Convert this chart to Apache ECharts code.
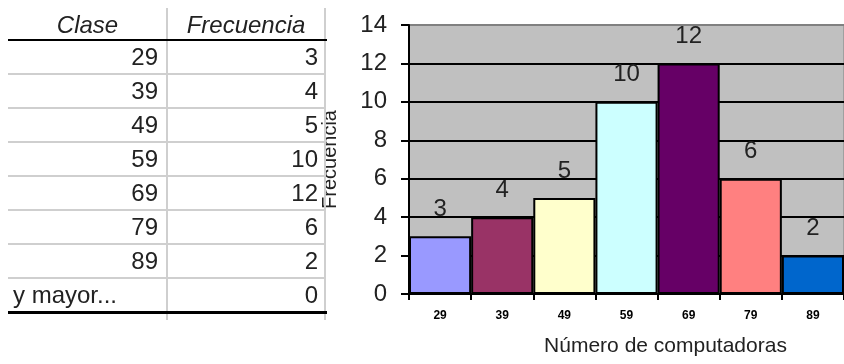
<!DOCTYPE html>
<html>
<head>
<meta charset="utf-8">
<script src="https://cdn.jsdelivr.net/npm/echarts@6/dist/echarts.min.js"></script>
<style>
    html, body { margin: 0; padding: 0; background: #fff; }
    #wrap { position: relative; width: 844px; height: 364px; overflow: hidden; }
    #chart { position: absolute; left: 0; top: 0; width: 844px; height: 364px; }
    #tabla { position: absolute; left: 0; top: 0; width: 340px; height: 364px; pointer-events: none;
             font-family: 'Liberation Sans', Arial, sans-serif; font-size: 24px; color: #222; }
    .vl { position: absolute; width: 2px; background: #cfcfcf; }
    .hl { position: absolute; height: 2px; background: #cfcfcf; }
    .cell { position: absolute; height: 34px; line-height: 34px; white-space: nowrap; }
</style>
</head>
<body>
<div id="wrap">
    <div id="chart"></div>
    <div id="tabla"></div>
</div>
<script>
// datos de la tabla de frecuencias
const clases = ['29', '39', '49', '59', '69', '79', '89', 'y mayor...'];
const frecuencias = [3, 4, 5, 10, 12, 6, 2, 0];

// datos del histograma
const categorias = ['29', '39', '49', '59', '69', '79', '89'];
const valores = [3, 4, 5, 10, 12, 6, 2];
const colores = ['#9999ff', '#993366', '#ffffcc', '#ccffff', '#660066', '#ff8080', '#0066cc'];
const ticksY = [0, 2, 4, 6, 8, 10, 12, 14];

// tabla (texto real en HTML)
function drawTable() {
    const el = document.getElementById('tabla');
    const top = 40, rowH = 34;
    let html = '';
    html += '<div class="vl" style="left:166px;top:8px;height:312px"></div>';
    html += '<div class="vl" style="left:324px;top:8px;height:312px"></div>';
    html += '<div class="cell" style="left:8px;width:159px;top:8px;text-align:center;font-style:italic">Clase</div>';
    html += '<div class="cell" style="left:167px;width:158px;top:8px;text-align:center;font-style:italic">Frecuencia</div>';
    html += '<div style="position:absolute;left:8px;top:39px;width:319px;height:2px;background:#000"></div>';
    clases.forEach((c, i) => {
        const y = top + i * rowH;
        if (i > 0) html += `<div class="hl" style="left:8px;top:${y - 1}px;width:317px"></div>`;
        if (c === 'y mayor...') {
            html += `<div class="cell" style="left:13px;top:${y}px">${c}</div>`;
        } else {
            html += `<div class="cell" style="left:8px;width:150px;top:${y}px;text-align:right">${c}</div>`;
        }
        html += `<div class="cell" style="left:167px;width:151px;top:${y}px;text-align:right">${frecuencias[i]}</div>`;
    });
    html += `<div style="position:absolute;left:8px;top:${top + clases.length * rowH - 1}px;width:319px;height:3px;background:#000"></div>`;
    el.innerHTML = html;
}
drawTable();

const chart = echarts.init(document.getElementById('chart'));
chart.setOption({
    animation: false,
    textStyle: { fontFamily: 'Liberation Sans, Arial, sans-serif' },
    grid: {
        left: 409, right: 0, top: 25, bottom: 70,
        show: true, backgroundColor: '#c0c0c0', borderColor: '#808080', borderWidth: 1
    },
    xAxis: {
        type: 'category',
        data: categorias,
        axisLine: { lineStyle: { color: '#000', width: 2 } },
        axisTick: { show: true, length: 6, lineStyle: { color: '#000', width: 2 } },
        axisLabel: { color: '#000', fontSize: 12, fontWeight: 'bold', margin: 16 },
        name: 'Número de computadoras',
        nameLocation: 'middle',
        nameGap: 42,
        nameTextStyle: { color: '#222', fontSize: 21, padding: [0, 0, 0, 78] }
    },
    yAxis: {
        type: 'value',
        min: ticksY[0],
        max: ticksY[ticksY.length - 1],
        interval: 2,
        axisLine: { show: true, lineStyle: { color: '#000', width: 2 } },
        axisTick: { show: true, length: 8, lineStyle: { color: '#000', width: 2 } },
        axisLabel: { color: '#222', fontSize: 24, margin: 22 },
        splitLine: {
            show: true,
            lineStyle: { color: ['#000', '#000', '#000', '#000', '#000', '#000', '#000', '#808080'], width: 2 }
        },
        name: 'Frecuencia',
        nameLocation: 'middle',
        nameGap: 69,
        nameTextStyle: { color: '#222', fontSize: 20 }
    },
    series: [{
        type: 'bar',
        barCategoryGap: '0%',
        data: valores.map((v, i) => ({ value: v, itemStyle: { color: colores[i] } })),
        itemStyle: { borderColor: '#000', borderWidth: 2 },
        label: { show: true, position: 'top', distance: 15, fontSize: 24, color: '#222' }
    }]
});
</script>
</body>
</html>
